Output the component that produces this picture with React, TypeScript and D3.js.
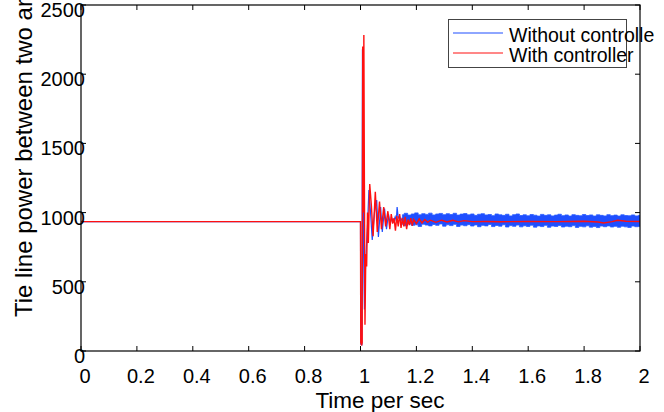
import React, { useEffect, useRef } from 'react';
import * as d3 from 'd3';

// time (s) / tie-line power readings, transient part
const blueTime = [0, 0.999, 1.0, 1.001, 1.005, 1.007, 1.009, 1.011, 1.014, 1.018, 1.021, 1.025, 1.03, 1.036, 1.042, 1.05, 1.058, 1.064, 1.072, 1.078, 1.086, 1.093, 1.1, 1.106, 1.112, 1.118, 1.124, 1.128, 1.131, 1.135, 1.14, 1.145, 1.15];
const blueValue = [935, 935, 935, 50, 45, 2180, 1900, 700, 300, 616, 750, 900, 1163, 1000, 802, 1000, 1091, 824, 1040, 860, 1030, 880, 990, 920, 960, 935, 970, 940, 1040, 960, 975, 940, 965];

// noisy band of the uncontrolled case (upper / lower envelope)
const bandTime = [1.15, 1.1625, 1.175, 1.1875, 1.2, 1.2125, 1.225, 1.2375, 1.25, 1.2625, 1.275, 1.2875, 1.3, 1.3125, 1.325, 1.3375, 1.35, 1.3625, 1.375, 1.3875, 1.4, 1.4125, 1.425, 1.4375, 1.45, 1.4625, 1.475, 1.4875, 1.5, 1.5125, 1.525, 1.5375, 1.55, 1.5625, 1.575, 1.5875, 1.6, 1.6125, 1.625, 1.6375, 1.65, 1.6625, 1.675, 1.6875, 1.7, 1.7125, 1.725, 1.7375, 1.75, 1.7625, 1.775, 1.7875, 1.8, 1.8125, 1.825, 1.8375, 1.85, 1.8625, 1.875, 1.8875, 1.9, 1.9125, 1.925, 1.9375, 1.95, 1.9625, 1.975, 1.9875, 2.0];
const bandHigh = [985, 995, 982, 990, 998, 984, 992, 987, 996, 983, 990, 994, 985, 992, 986, 995, 982, 989, 993, 984, 990, 980, 988, 992, 983, 986, 978, 990, 984, 980, 988, 976, 985, 990, 979, 984, 977, 986, 981, 975, 987, 980, 984, 976, 982, 988, 978, 983, 975, 985, 980, 977, 986, 979, 983, 975, 984, 980, 976, 985, 978, 982, 975, 984, 979, 977, 983, 976, 980];
const bandLow = [915, 905, 918, 908, 912, 900, 916, 910, 904, 914, 908, 918, 902, 912, 906, 915, 900, 910, 905, 913, 903, 911, 898, 908, 904, 914, 899, 907, 902, 912, 896, 906, 901, 910, 897, 905, 900, 909, 895, 904, 899, 908, 894, 903, 900, 907, 896, 902, 898, 906, 893, 901, 897, 905, 895, 900, 892, 903, 898, 904, 896, 901, 894, 902, 897, 893, 903, 898, 900];

const redTime = [0, 0.999, 1.0, 1.001, 1.004, 1.006, 1.008, 1.01, 1.012, 1.014, 1.016, 1.019, 1.022, 1.025, 1.028, 1.033, 1.039, 1.045, 1.053, 1.06, 1.068, 1.075, 1.083, 1.09, 1.098, 1.105, 1.11, 1.115, 1.12, 1.125, 1.13, 1.135, 1.14, 1.145, 1.15, 1.155, 1.16, 1.165, 1.17, 1.175, 1.18, 1.185, 1.19, 1.2, 1.21, 1.22, 1.23, 1.24, 1.25, 1.27, 1.29, 1.31, 1.33, 1.35, 1.37, 1.4, 1.45, 1.5, 1.6, 1.7, 1.8, 1.85, 1.87, 1.9, 1.92, 1.95, 2.0];
const redValue = [935, 935, 935, 60, 40, 60, 2200, 1000, 2283, 1200, 190, 700, 610, 1000, 780, 1206, 1050, 830, 1150, 860, 1080, 880, 1040, 900, 1010, 880, 990, 920, 960, 870, 975, 900, 990, 890, 960, 900, 970, 880, 950, 910, 960, 905, 950, 920, 955, 925, 950, 930, 945, 930, 945, 932, 944, 933, 942, 935, 936, 934, 936, 935, 937, 932, 925, 935, 945, 938, 936];

const xTicks = [0, 0.2, 0.4, 0.6, 0.8, 1, 1.2, 1.4, 1.6, 1.8, 2];
const yTicks = [0, 500, 1000, 1500, 2000, 2500];

const W = 664;
const H = 412;
const FONT = 'Liberation Sans, Arial, sans-serif';

const App: React.FC = () => {
  const svgRef = useRef<SVGSVGElement>(null);

  useEffect(() => {
    if (!svgRef.current) return;
    const svg = d3.select(svgRef.current);
    svg.selectAll('*').remove();

    const left = 81, right = 640, top = 5, bottom = 351;
    const x = d3.scaleLinear().domain([0, 2]).range([left, right]);
    const y = d3.scaleLinear().domain([0, 2500]).range([bottom, top]);

    svg.append('rect').attr('width', W).attr('height', H).attr('fill', '#fff');

    svg.append('defs').append('clipPath').attr('id', 'plot')
      .append('rect').attr('x', left).attr('y', top).attr('width', right - left).attr('height', bottom - top);

    const g = svg.append('g').attr('clip-path', 'url(#plot)');

    // without controller
    const bluePts: [number, number][] = blueTime.map((t, i) => [x(t), y(blueValue[i])]);
    g.append('path')
      .attr('d', d3.line()(bluePts))
      .attr('fill', 'none')
      .attr('stroke', '#1f4fff')
      .attr('stroke-width', 1.2);

    const band = d3.area<number>()
      .x((_, i) => x(bandTime[i]))
      .y0((_, i) => y(bandLow[i]))
      .y1((_, i) => y(bandHigh[i]))
      .curve(d3.curveStep);
    g.append('path')
      .attr('d', band(bandTime))
      .attr('fill', '#1f4fff')
      .attr('stroke', '#2a5cff')
      .attr('stroke-width', 0.8);

    // with controller
    const redPts: [number, number][] = redTime.map((t, i) => [x(t), y(redValue[i])]);
    g.append('path')
      .attr('d', d3.line()(redPts))
      .attr('fill', 'none')
      .attr('stroke', '#ff1010')
      .attr('stroke-width', 1.4);

    // ticks (inward, all four sides)
    const tl = 5;
    xTicks.forEach(t => {
      svg.append('line').attr('x1', x(t)).attr('x2', x(t)).attr('y1', bottom).attr('y2', bottom - tl).attr('stroke', '#000');
      svg.append('line').attr('x1', x(t)).attr('x2', x(t)).attr('y1', top).attr('y2', top + tl).attr('stroke', '#000');
      svg.append('text')
        .attr('x', x(t) + 4).attr('y', 383)
        .attr('text-anchor', 'middle')
        .attr('font-family', FONT).attr('font-size', 20)
        .text(String(t));
    });
    yTicks.forEach(v => {
      svg.append('line').attr('x1', left).attr('x2', left + tl).attr('y1', y(v)).attr('y2', y(v)).attr('stroke', '#000');
      svg.append('line').attr('x1', right).attr('x2', right - tl).attr('y1', y(v)).attr('y2', y(v)).attr('stroke', '#000');
      svg.append('text')
        .attr('x', 85).attr('y', y(v) + 12)
        .attr('text-anchor', 'end')
        .attr('font-family', FONT).attr('font-size', 20)
        .text(String(v));
    });

    // legend
    const leg = svg.append('g');
    leg.append('rect')
      .attr('x', 448.5).attr('y', 19.5).attr('width', 178).attr('height', 48)
      .attr('fill', '#fff').attr('stroke', '#444').attr('stroke-width', 1);
    const items = [
      { label: 'Without controlle', color: '#1f4fff', ly: 33 },
      { label: 'With controller', color: '#ff1010', ly: 53 },
    ];
    items.forEach(it => {
      leg.append('line').attr('x1', 453).attr('x2', 503).attr('y1', it.ly).attr('y2', it.ly)
        .attr('stroke', it.color).attr('stroke-width', 1.2);
      leg.append('text')
        .attr('x', 509).attr('y', it.ly + 9)
        .attr('font-family', FONT).attr('font-size', 19.5)
        .text(it.label);
    });

    // frame
    svg.append('rect')
      .attr('x', left).attr('y', top).attr('width', right - left).attr('height', bottom - top)
      .attr('fill', 'none').attr('stroke', '#000').attr('stroke-width', 1.2);

    // axis titles
    svg.append('text')
      .attr('x', 380).attr('y', 408)
      .attr('text-anchor', 'middle')
      .attr('font-family', FONT).attr('font-size', 22.5)
      .text('Time per sec');
    svg.append('text')
      .attr('transform', 'translate(32,317) rotate(-90)')
      .attr('font-family', FONT).attr('font-size', 24)
      .text('Tie line power between two areas');
  }, []);

  return (
    <svg
      ref={svgRef}
      width={W}
      height={H}
      style={{ position: 'fixed', top: 0, left: 0, display: 'block' }}
    />
  );
};

export default App;
